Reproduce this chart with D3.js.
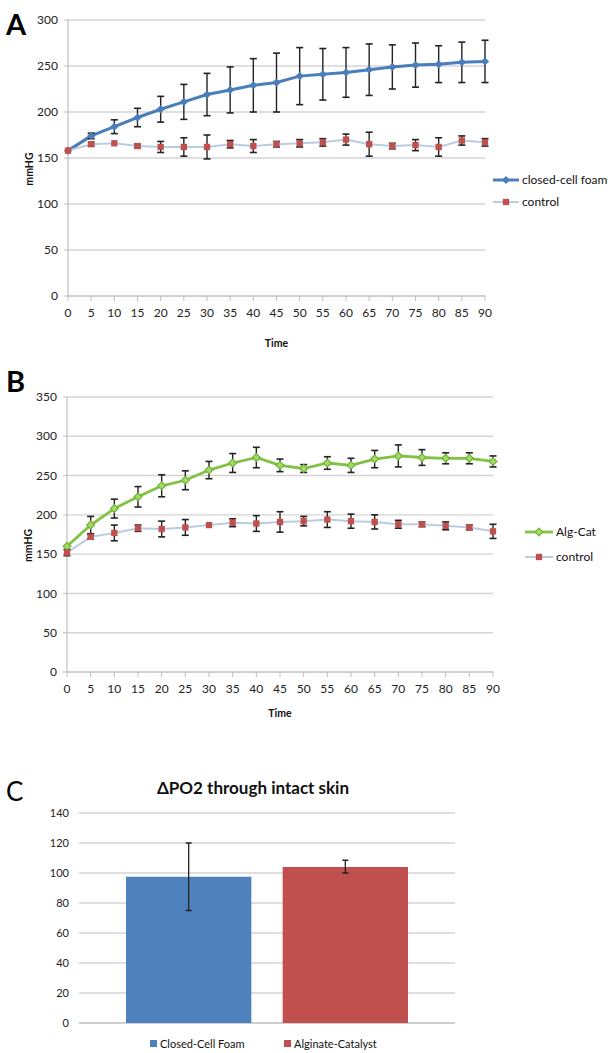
<!DOCTYPE html>
<html><head><meta charset="utf-8">
<script src="https://cdn.jsdelivr.net/npm/d3@7"></script>
<style>body{margin:0;background:#fff}svg{display:block}text{font-family:Lato,"Open Sans",sans-serif}</style>
</head><body>
<script>
// ---- Data ----
const times = [0,5,10,15,20,25,30,35,40,45,50,55,60,65,70,75,80,85,90];
const aFoam =    [158,174,184,194,203,211,219,224,229,232,239,241,243,246,249,251,252,254,255];
const aFoamErr = [0,3,7.5,10,14,19,23,25,29,32,31,28,27,28,24,24,20,22,23];
const aCtrl =    [158,165,166,163,162,162,162,165,163,165,166,167,170,165,163,164,162,169,167];
const aCtrlErr = [0,2,0,2,6,10,13,4,7,3,4,4,6,13,3,6,10,5,4];
const bAlg =     [160,187,208,223,237,244,257,266,273,263,259,266,263,271,275,273,272,272,268];
const bAlgErr =  [0,11,12,13,14,12,11,12,13,8,5,8,9,11,14,10,7,7,7];
const bCtrl =    [152,172,177,183,182,184,187,190,189,191,192,194,192,191,188,188,186,184,179];
const bCtrlErr = [4,3,10,4,10,10,0,5,10,13,6,10,9,9,5,3,5,3,9];
const aYTicks = [0,50,100,150,200,250,300];
const bYTicks = [0,50,100,150,200,250,300,350];
const cCats = ["Closed-Cell Foam","Alginate-Catalyst"];
const cVals = [97.5,104];
const cErrHi = [120,108.5];
const cErrLo = [75,100];
const cYTicks = [0,20,40,60,80,100,120,140];

const svg = d3.select("body").append("svg").attr("width",612).attr("height",1053);
svg.append("rect").attr("width",612).attr("height",1053).attr("fill","#fff");

const GRID="#d4d4d4", AX="#bfbfbf", ERR="#222";

function marker(s){
  if(s.shape==="diamond") return d3.symbol().type(d3.symbolSquare).size(s.msize)();
  return d3.symbol().type(d3.symbolSquare).size(s.msize)();
}
function rot(s){ return s.shape==="diamond" ? " rotate(45)" : ""; }

function linePanel(o){
  const g = svg.append("g");
  const x = d3.scaleLinear().domain([0,90]).range([o.x0,o.x1]);
  const y = d3.scaleLinear().domain([0,o.ymax]).range([o.y0,o.y1]);
  g.selectAll(".gl").data(o.yticks.filter(d=>d>0)).join("line")
    .attr("x1",o.x0).attr("x2",o.x1).attr("y1",d=>y(d)).attr("y2",d=>y(d))
    .attr("stroke",GRID).attr("stroke-width",1.4);
  g.append("line").attr("x1",o.x0).attr("x2",o.x0).attr("y1",o.y1).attr("y2",o.y0).attr("stroke",AX).attr("stroke-width",1.2);
  g.append("line").attr("x1",o.x0).attr("x2",o.x1).attr("y1",o.y0).attr("y2",o.y0).attr("stroke",AX).attr("stroke-width",1.4);
  g.selectAll(".xt").data(times).join("line")
    .attr("x1",d=>x(d)).attr("x2",d=>x(d)).attr("y1",o.y0).attr("y2",o.y0+5).attr("stroke",AX);
  g.selectAll(".yt").data(o.yticks).join("line")
    .attr("x1",o.x0-4).attr("x2",o.x0).attr("y1",d=>y(d)).attr("y2",d=>y(d)).attr("stroke",AX);
  g.selectAll(".ytl").data(o.yticks).join("text")
    .attr("x",o.x0-10).attr("y",d=>y(d)).attr("dy","0.35em").attr("text-anchor","end")
    .attr("font-size",12).attr("fill","#222").text(d=>d);
  g.selectAll(".xtl").data(times).join("text")
    .attr("x",d=>x(d)).attr("y",o.y0+21).attr("text-anchor","middle")
    .attr("font-size",12).attr("fill","#222").text(d=>d);
  g.append("text").attr("x",(o.x0+o.x1)/2).attr("y",o.timeY).attr("text-anchor","middle")
    .attr("font-size",10.5).attr("font-weight","bold").attr("fill","#111").text("Time");
  g.append("text").attr("transform",`translate(${o.x0-35},${y(o.ymax*0.46)}) rotate(-90)`)
    .attr("text-anchor","middle").attr("font-size",10.5).attr("font-weight","bold").attr("fill","#111").text("mmHG");
  g.append("text").attr("x",6).attr("y",o.letterY).attr("font-size",29).attr("font-weight","bold")
    .attr("font-family","Liberation Sans, Arial, sans-serif").attr("fill","#000").text(o.letter);
  o.series.forEach(s=>{
    const ln = d3.line().x((d,i)=>x(times[i])).y(d=>y(d));
    g.append("path").datum(s.vals).attr("d",ln).attr("fill","none")
      .attr("stroke",s.lineColor).attr("stroke-width",s.lw);
  });
  o.series.forEach(s=>{
    const eb = g.append("g");
    s.vals.forEach((v,i)=>{
      const e=s.err[i]; if(!e) return;
      const xi=x(times[i]);
      eb.append("line").attr("x1",xi).attr("x2",xi).attr("y1",y(v+e)).attr("y2",y(v-e)).attr("stroke",ERR).attr("stroke-width",1.4);
      [v+e,v-e].forEach(w=>eb.append("line").attr("x1",xi-3.5).attr("x2",xi+3.5).attr("y1",y(w)).attr("y2",y(w)).attr("stroke",ERR).attr("stroke-width",1.6));
    });
  });
  o.series.forEach(s=>{
    g.selectAll(null).data(s.vals).join("path")
      .attr("transform",(d,i)=>`translate(${x(times[i])},${y(d)})${rot(s)}`)
      .attr("d",marker(s))
      .attr("fill",s.fill).attr("stroke",s.mstroke).attr("stroke-width",s.msw);
  });
  o.series.forEach((s,k)=>{
    const ly = o.legY + k*o.legGap;
    g.append("line").attr("x1",o.legX).attr("x2",o.legX+o.legLen).attr("y1",ly).attr("y2",ly)
      .attr("stroke",s.lineColor).attr("stroke-width",s.lw);
    g.append("path").attr("transform",`translate(${o.legX+o.legLen/2},${ly})${rot(s)}`)
      .attr("d",marker(s))
      .attr("fill",s.fill).attr("stroke",s.mstroke).attr("stroke-width",s.msw);
    g.append("text").attr("x",o.legX+o.legLen+3).attr("y",ly).attr("dy","0.35em")
      .attr("font-size",12).attr("fill","#111").text(s.name);
  });
}

linePanel({letter:"A",x0:68,x1:485,y0:296,y1:20,ymax:300,yticks:aYTicks,timeY:347,letterY:35,
  legX:493,legLen:26,legY:180,legGap:22,
  series:[
    {name:"closed-cell foam",vals:aFoam,err:aFoamErr,lineColor:"#4a7ebb",lw:3,shape:"diamond",msize:34,fill:"#4a7ebb",mstroke:"#4a7ebb",msw:0},
    {name:"control",vals:aCtrl,err:aCtrlErr,lineColor:"#b8cce4",lw:2,shape:"square",msize:40,fill:"#c0504d",mstroke:"#c0504d",msw:0}
  ]});

linePanel({letter:"B",x0:67,x1:493,y0:672,y1:397,ymax:350,yticks:bYTicks,timeY:717,letterY:392,
  legX:525,legLen:28,legY:532,legGap:25,
  series:[
    {name:"Alg-Cat",vals:bAlg,err:bAlgErr,lineColor:"#80c342",lw:2.8,shape:"diamond",msize:30,fill:"#a6d96a",mstroke:"#6fb536",msw:1.2},
    {name:"control",vals:bCtrl,err:bCtrlErr,lineColor:"#b8cce4",lw:2,shape:"square",msize:40,fill:"#c0504d",mstroke:"#c0504d",msw:0}
  ]});

// ---- Panel C ----
(function(){
  const g = svg.append("g");
  const x = d3.scaleBand().domain(cCats).range([79,455]).paddingInner(0.2).paddingOuter(0.3);
  const y = d3.scaleLinear().domain([0,140]).range([1023,813]);
  g.selectAll(".gl").data(cYTicks).join("line")
    .attr("x1",79).attr("x2",455).attr("y1",d=>y(d)).attr("y2",d=>y(d))
    .attr("stroke",d=>d===0?"#bfbfbf":GRID).attr("stroke-width",1.4);
  g.selectAll(".ytl").data(cYTicks).join("text")
    .attr("x",69).attr("y",d=>y(d)).attr("dy","0.35em").attr("text-anchor","end")
    .attr("font-size",11).attr("fill","#222").text(d=>d);
  const cols=["#4f81bd","#c0504d"];
  g.selectAll(".bar").data(cVals).join("rect")
    .attr("x",(d,i)=>x(cCats[i])).attr("width",x.bandwidth())
    .attr("y",d=>y(d)).attr("height",d=>y(0)-y(d)).attr("fill",(d,i)=>cols[i]);
  cVals.forEach((v,i)=>{
    const cx = x(cCats[i])+x.bandwidth()/2;
    g.append("line").attr("x1",cx).attr("x2",cx).attr("y1",y(cErrHi[i])).attr("y2",y(cErrLo[i])).attr("stroke",ERR).attr("stroke-width",1.3);
    [cErrHi[i],cErrLo[i]].forEach(w=>g.append("line").attr("x1",cx-3).attr("x2",cx+3).attr("y1",y(w)).attr("y2",y(w)).attr("stroke",ERR).attr("stroke-width",1.5));
  });
  g.append("text").attr("x",253).attr("y",794).attr("text-anchor","middle")
    .attr("font-size",17).attr("font-weight","bold").attr("fill","#111").text("ΔPO2 through intact skin");
  g.append("text").attr("x",6).attr("y",801).attr("font-size",26)
    .attr("font-family","Liberation Sans, Arial, sans-serif").attr("fill","#000").text("C");
  const lx=[150,284];
  cCats.forEach((c,i)=>{
    g.append("rect").attr("x",lx[i]).attr("y",1040).attr("width",7).attr("height",7).attr("fill",cols[i]);
    g.append("text").attr("x",lx[i]+10).attr("y",1044).attr("dy","0.35em")
      .attr("font-size",11).attr("fill","#111").text(c);
  });
})();
</script>
</body></html>
